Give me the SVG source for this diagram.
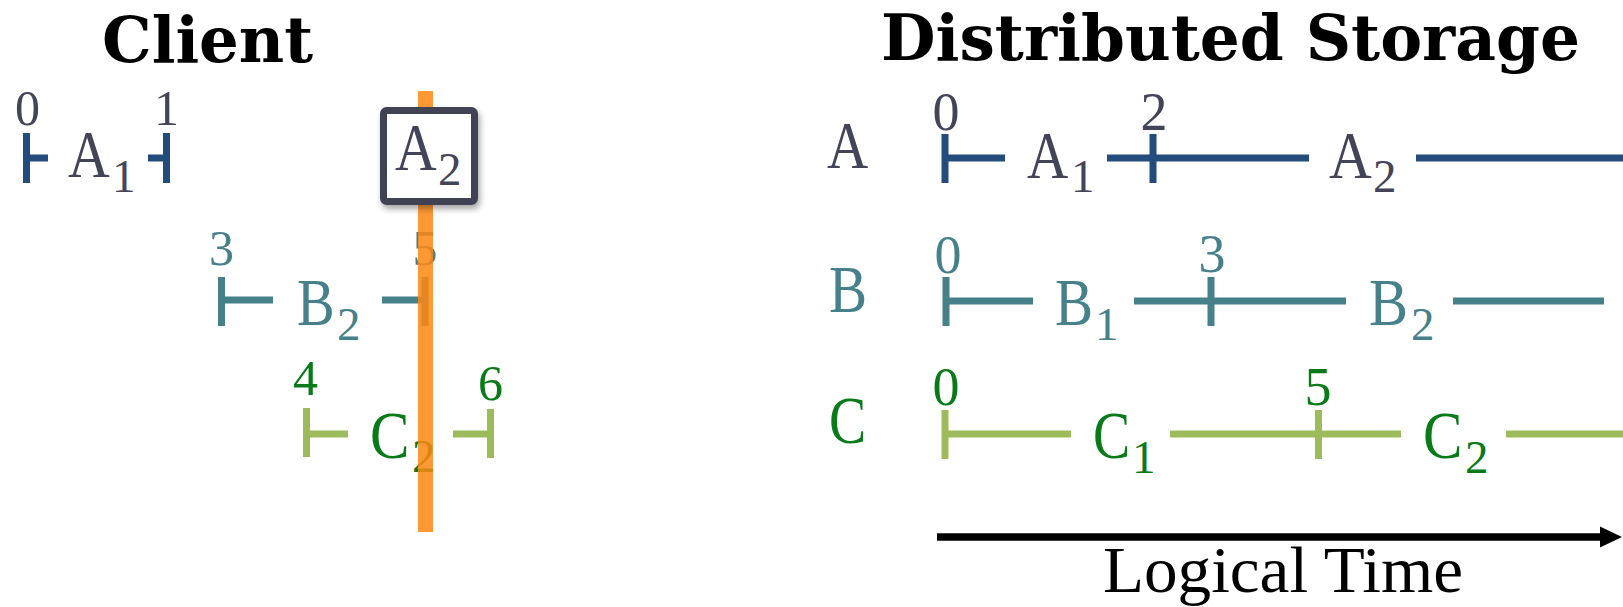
<svg xmlns="http://www.w3.org/2000/svg" width="1623" height="607" viewBox="0 0 1623 607">
<style>
.title{font-family:"DejaVu Serif",serif;font-weight:bold;font-size:64px;fill:#000}
.big{font-family:"Liberation Serif",serif;font-size:68px}
.sub{font-family:"Liberation Serif",serif;font-size:47px}
.num{font-family:"Liberation Serif",serif;font-size:50px;text-anchor:middle}
.numr{font-family:"Liberation Serif",serif;font-size:54px;text-anchor:middle}
.ca{fill:#444459}
.cb{fill:#46808a}
.cc{fill:#087a18}
.la{stroke:#234c7d;stroke-width:7;fill:none}
.lb{stroke:#46808a;stroke-width:7;fill:none}
.lc{stroke:#9dbb5a;stroke-width:7;fill:none}
</style>
<defs>
<filter id="sh" x="-20%" y="-20%" width="150%" height="150%">
<feDropShadow dx="2" dy="4" stdDeviation="3" flood-color="#000" flood-opacity="0.35"/>
</filter>
</defs>
<rect width="1623" height="607" fill="#fff"/>

<g id="titles">
<text class="title" x="102" y="62" textLength="211" lengthAdjust="spacingAndGlyphs">Client</text>
<text class="title" x="881" y="60" textLength="699" lengthAdjust="spacingAndGlyphs">Distributed Storage</text>
</g>

<g id="connectors">
<path class="la" d="M26.5,133V183M26.5,158H48"/>
<path class="la" d="M148,158H166.5M166.5,133V183"/>
<path class="lb" d="M221.5,277V326M221.5,300H273"/>
<path class="lb" d="M382,300H425M425,277V326"/>
<path class="lc" d="M306.5,408V457M306.5,434H348"/>
<path class="lc" d="M453,434H490.5M490.5,409V458"/>
<path class="la" d="M945,134V183M945,158H1005M1107,158H1309M1153,134V183M1416,158H1623"/>
<path class="lb" d="M946,277V326M946,301H1033M1134,301H1346M1211,277V326M1453,301H1604"/>
<path class="lc" d="M945,410V459M945,434H1071M1170,434H1401M1318.5,410V459M1506,434H1623"/>
<line x1="937" y1="537" x2="1603" y2="537" stroke="#000" stroke-width="7.5"/>
<polygon points="1600,526.5 1622,537 1600,547.5" fill="#000"/>
</g>

<g id="client-A1">
<text class="num ca" x="27.5" y="125">0</text>
<text class="big ca" transform="translate(68,177) scale(0.85,1)">A</text>
<text class="sub ca" x="112" y="192">1</text>
<text class="num ca" x="166.5" y="125">1</text>
</g>

<g id="client-B2">
<text class="num cb" x="221.5" y="265">3</text>
<text class="big cb" transform="translate(297,325) scale(0.83,1)">B</text>
<text class="sub cb" x="337" y="340">2</text>
<text class="num cb" x="425" y="265">5</text>
</g>

<g id="client-C2">
<text class="num cc" x="305.5" y="395">4</text>
<text class="big cc" transform="translate(370,458) scale(0.87,1)">C</text>
<text class="sub cc" x="412" y="472">2</text>
<text class="num cc" x="490.5" y="400">6</text>
</g>

<g id="cut-line">
<rect x="418" y="91" width="15" height="441" fill="#ff8710" fill-opacity="0.85"/>
</g>

<g id="client-A2">
<rect x="383.5" y="110.5" width="91" height="91" rx="3" fill="#fff" stroke="#434355" stroke-width="7" filter="url(#sh)"/>
<text class="big ca" transform="translate(395,170) scale(0.85,1)">A</text>
<text class="sub ca" x="438" y="185">2</text>
</g>

<g id="storage-A">
<text class="big ca" transform="translate(827,168) scale(0.84,1)">A</text>
<text class="numr ca" x="946" y="130">0</text>
<text class="big ca" transform="translate(1027,178) scale(0.84,1)">A</text>
<text class="sub ca" x="1071" y="192">1</text>
<text class="numr ca" x="1154" y="130">2</text>
<text class="big ca" transform="translate(1329,178) scale(0.87,1)">A</text>
<text class="sub ca" x="1373" y="192">2</text>
</g>

<g id="storage-B">
<text class="big cb" transform="translate(829,312) scale(0.84,1)">B</text>
<text class="numr cb" x="948" y="273">0</text>
<text class="big cb" transform="translate(1055,325) scale(0.84,1)">B</text>
<text class="sub cb" x="1095" y="340">1</text>
<text class="numr cb" x="1212" y="272">3</text>
<text class="big cb" transform="translate(1369,325) scale(0.86,1)">B</text>
<text class="sub cb" x="1411" y="340">2</text>
</g>

<g id="storage-C">
<text class="big cc" transform="translate(829,443) scale(0.82,1)">C</text>
<text class="numr cc" x="946" y="405">0</text>
<text class="big cc" transform="translate(1093,458) scale(0.82,1)">C</text>
<text class="sub cc" x="1132" y="473">1</text>
<text class="numr cc" x="1318" y="405">5</text>
<text class="big cc" transform="translate(1423,458) scale(0.87,1)">C</text>
<text class="sub cc" x="1465" y="473">2</text>
</g>

<g id="time-label">
<text x="1103" y="592" font-family="Liberation Serif, serif" font-size="66" fill="#000" textLength="360" lengthAdjust="spacingAndGlyphs">Logical Time</text>
</g>
</svg>
